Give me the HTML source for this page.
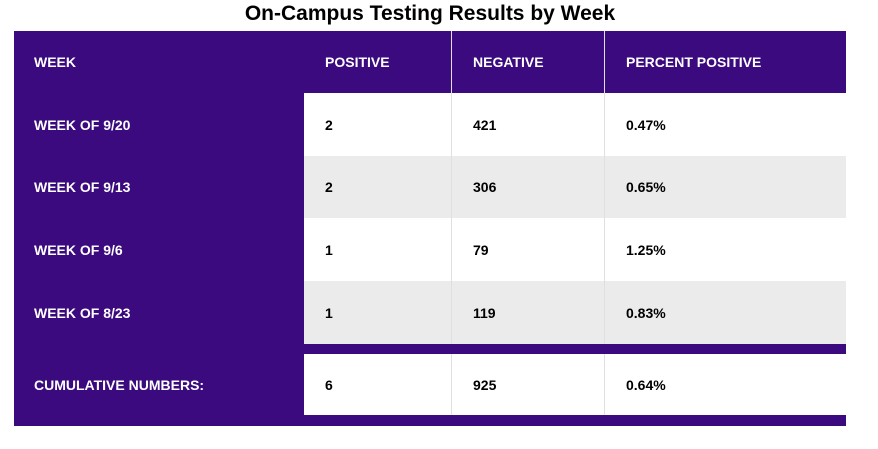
<!DOCTYPE html>
<html><head><meta charset="utf-8"><style>
body{margin:0;width:878px;height:449px;background:#fff;font-family:"Liberation Sans",sans-serif;position:relative;overflow:hidden}
.t{position:absolute;left:0;width:860px;top:2px;text-align:center;font-size:21px;font-weight:bold;color:#000}
.bg{position:absolute;left:14px;top:31px;width:832px;height:395px;background:#3a0a7e}
.c{position:absolute;box-sizing:border-box;font-size:14px;font-weight:bold;display:flex;align-items:center}
.w{background:#fff}.g{background:#ebebeb}
.bl{border-left:1px solid #e0e0e0}
.hd{color:#fff}
</style></head><body>
<div class="t">On-Campus Testing Results by Week</div>
<div class="bg"></div>
<div id="tbl"></div>
<script>
const rowLabels=["WEEK","WEEK OF 9/20","WEEK OF 9/13","WEEK OF 9/6","WEEK OF 8/23","CUMULATIVE NUMBERS:"];
const positives=["POSITIVE","2","2","1","1","6"];
const negatives=["NEGATIVE","421","306","79","119","925"];
const percents=["PERCENT POSITIVE","0.47%","0.65%","1.25%","0.83%","0.64%"];
const tops=[31,93,156,218,281,354];
const heights=[62,63,62,63,63,61];
const cols=[[14,290],[304,147],[451,153],[604,242]];
const root=document.getElementById('tbl');
for(let r=0;r<6;r++){
  const vals=[rowLabels[r],positives[r],negatives[r],percents[r]];
  for(let c=0;c<4;c++){
    const d=document.createElement('div');
    
    
    let cls='c';
    if(r===0||c===0)cls+=' hd';
    else cls+=(r===2||r===4)?' g':' w';
    if(c>1)cls+=' bl';
    d.className=cls;
    d.style.left=cols[c][0]+'px';d.style.width=cols[c][1]+'px';
    d.style.top=tops[r]+'px';d.style.height=heights[r]+'px';
    d.style.paddingLeft=(c===0?20:21)+'px';
    d.textContent=vals[c];
    root.appendChild(d);
  }
}
</script>
</body></html>
